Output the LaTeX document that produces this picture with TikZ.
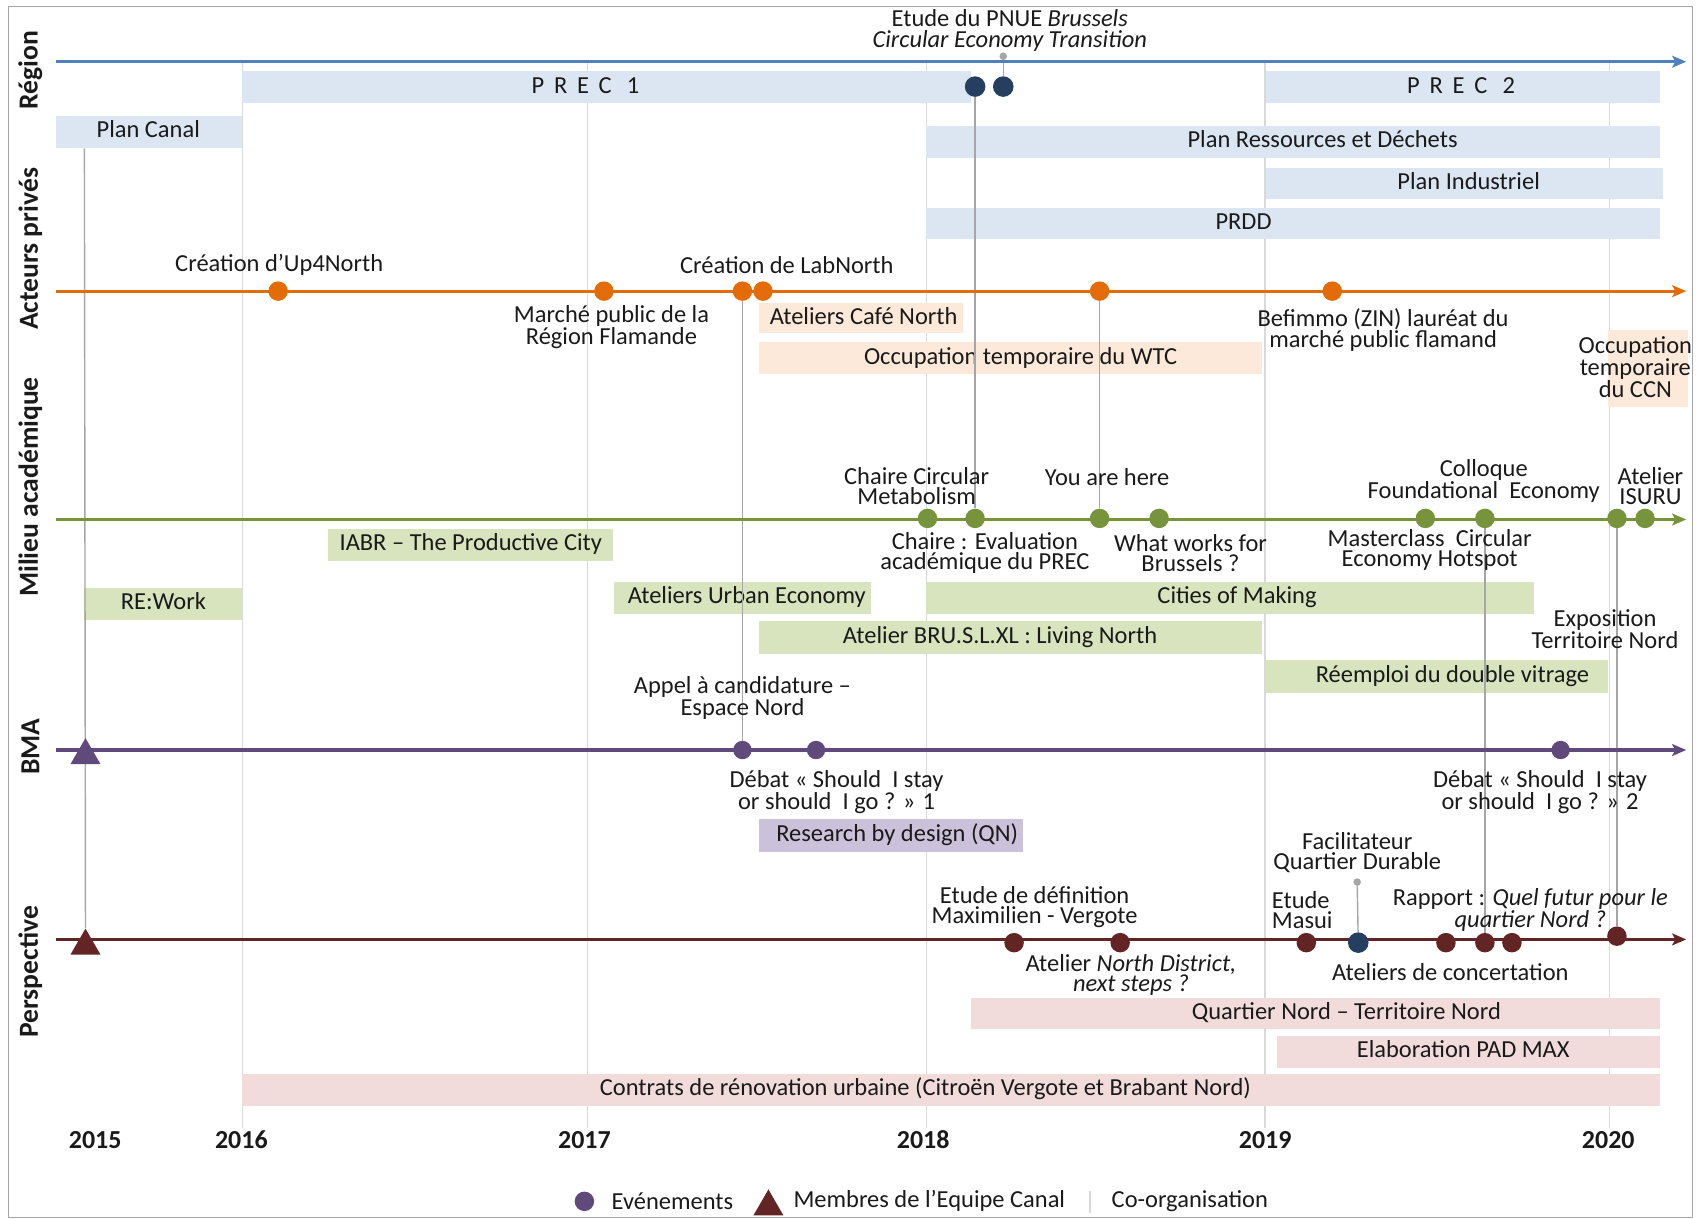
\documentclass[tikz,border=0pt]{standalone}
\usepackage{fontspec}
\setmainfont{Carlito}
\usetikzlibrary{arrows.meta,shapes.geometric}
\definecolor{cblue}{HTML}{4F81BD}
\definecolor{corange}{HTML}{E36C09}
\definecolor{cgreen}{HTML}{77933C}
\definecolor{cpurple}{HTML}{604A7B}
\definecolor{cred}{HTML}{632523}
\definecolor{cnavy}{HTML}{243F60}
\definecolor{bblue}{HTML}{DCE6F2}
\definecolor{borange}{HTML}{FDE9D9}
\definecolor{bgreen}{HTML}{D7E4BD}
\definecolor{bpurple}{HTML}{CCC1DA}
\definecolor{bpink}{HTML}{F2DCDB}
\definecolor{cgrid}{HTML}{D9D9D9}
\definecolor{cconn}{HTML}{A6A6A6}
\definecolor{ctext}{HTML}{1A1A1A}
\pgfdeclarelayer{bg}
\pgfdeclarelayer{mid}
\pgfsetlayers{bg,mid,main}
\newcommand\mkbar[8]{%
  \node[barbox, fill=#2, minimum width={(#5-#3)*1pt}, minimum height={(#6-#4)*1pt}] (#1) at (#3,#4) {};
  \node[bartext] (#1t) at (#7,{(#4+#6)/2}) {#8};}
\begin{document}
\begin{tikzpicture}[x=1pt,y=-1pt,
  lbl/.style={font=\fontsize{22.6}{19}\selectfont, align=center, inner sep=0pt, text=ctext},
  bartext/.style={lbl, text height=15pt, text depth=4pt},
  barbox/.style={anchor=north west, inner sep=0pt, draw=none, outer sep=0pt},
  dotn/.style={circle, inner sep=0pt, minimum size=18pt},
  smalldot/.style={circle, inner sep=0pt, minimum size=7pt, fill=cconn},
  tri/.style={regular polygon, regular polygon sides=3, inner sep=0pt, minimum size=32pt},
  axisline/.style={line width=3pt, -{Stealth[length=13pt,width=11pt,inset=3pt]}},
  conn/.style={draw=cconn, line width=1.3pt},
  gridline/.style={draw=cgrid, line width=1.3pt},
  lane/.style={font=\fontsize{25.5}{25.5}\selectfont\bfseries, rotate=90, inner sep=0pt, text=ctext},
  year/.style={font=\fontsize{24}{24}\selectfont\bfseries, inner sep=0pt, text=ctext}
]
\useasboundingbox (0,0) rectangle (1568,1126);
\draw[cconn, line width=1.3pt] (8,6) rectangle (1564,1125);

% lane labels
\node[lane] (lnR) at (28,65) {Région};
\node[lane] (lnA) at (28,230) {Acteurs privés};
\node[lane] (lnM) at (28,450) {Milieu académique};
\node[lane] (lnB) at (28,690) {BMA};
\node[lane] (lnP) at (28,898) {Perspective};

\begin{pgfonlayer}{bg}
% grid lines
\foreach \gx/\gn in {224/a,543/b,856/c,1169/d,1487/e}{
  \coordinate (gt\gn) at (\gx,58);
  \coordinate (gb\gn) at (\gx,1042);
  \draw[gridline] (gt\gn) -- (gb\gn);
}
% Region bars
\mkbar{prec1}{bblue}{224}{66}{897}{95}{541}{P\hspace{9pt}R\hspace{9pt}E\hspace{9pt}C\hspace{14pt}1}
\mkbar{prec2}{bblue}{1170}{66}{1534}{95}{1350}{P\hspace{9pt}R\hspace{9pt}E\hspace{9pt}C\hspace{14pt}2}
\mkbar{pcanal}{bblue}{52}{107}{224}{137}{137}{Plan Canal}
\mkbar{pres}{bblue}{856}{116}{1534}{146}{1222}{Plan Ressources et Déchets}
\mkbar{pind}{bblue}{1170}{155}{1537}{184}{1357}{Plan Industriel}
\mkbar{prdd}{bblue}{856}{192}{1534}{221}{1149}{PRDD}
% Acteurs privés bars
\mkbar{cafe}{borange}{701}{280}{890}{308}{798}{Ateliers Café North}
\mkbar{wtc}{borange}{701}{316}{1166}{346}{943}{Occupation temporaire du WTC}
\node[barbox, fill=borange, minimum width=74pt, minimum height=71pt] (ccn) at (1486,305) {};
\node[lbl, font=\fontsize{22.6}{17}\selectfont] (ccnt) at (1511,339) {Occupation\\temporaire\\du CCN};
% Milieu académique bars
\mkbar{iabr}{bgreen}{303}{489}{566}{518}{435}{IABR – The Productive City}
\mkbar{rework}{bgreen}{78}{543}{224}{573}{151}{RE:Work}
\mkbar{urban}{bgreen}{567}{538}{805}{567}{690}{Ateliers Urban Economy}
\mkbar{cities}{bgreen}{856}{538}{1417}{567}{1143}{Cities of Making}
\mkbar{bru}{bgreen}{701}{574}{1166}{604}{924}{Atelier BRU.S.L.XL : Living North}
\mkbar{reem}{bgreen}{1170}{610}{1486}{640}{1342}{Réemploi du double vitrage}
% BMA bar
\mkbar{rbd}{bpurple}{701}{757}{945}{787}{829}{Research by design (QN)}
% Perspective bars
\mkbar{qn}{bpink}{897}{922}{1534}{951}{1244}{Quartier Nord – Territoire Nord}
\mkbar{pad}{bpink}{1180}{957}{1534}{987}{1352}{Elaboration PAD MAX}
\mkbar{cru}{bpink}{224}{992}{1534}{1022}{855}{Contrats de rénovation urbaine (Citroën Vergote et Brabant Nord)}
\end{pgfonlayer}

% axis lines
\coordinate (aR0) at (52,57);  \coordinate (aR1) at (1558,57);
\coordinate (aA0) at (52,269); \coordinate (aA1) at (1558,269);
\coordinate (aM0) at (52,480); \coordinate (aM1) at (1558,480);
\coordinate (aB0) at (52,693); \coordinate (aB1) at (1558,693);
\coordinate (aP0) at (52,868); \coordinate (aP1) at (1558,868);
\draw[axisline, cblue] (aR0) -- (aR1);
\draw[axisline, corange] (aA0) -- (aA1);
\draw[axisline, cgreen] (aM0) -- (aM1);
\draw[axisline, cpurple] (aB0) -- (aB1);
\draw[axisline, cred] (aP0) -- (aP1);

% Region events
\node[dotn, fill=cnavy, minimum size=19pt] (rA) at (901,80) {};
\node[dotn, fill=cnavy, minimum size=19pt] (rB) at (927,80) {};
\node[smalldot] (rG) at (927,52) {};
\node[lbl] (rGt) at (933,28) {Etude du PNUE \textit{Brussels}\\\textit{Circular Economy Transition}};

% Acteurs privés events
\node[dotn, fill=corange] (o1) at (257,269) {};
\node[dotn, fill=corange] (o2) at (558,269) {};
\node[dotn, fill=corange] (o3) at (686,269) {};
\node[dotn, fill=corange] (o4) at (705,269) {};
\node[dotn, fill=corange] (o5) at (1016,269) {};
\node[dotn, fill=corange] (o6) at (1231,269) {};
\node[lbl] (o1t) at (258,245) {Création d’Up4North};
\node[lbl] (o2t) at (565,302) {Marché public de la\\Région Flamande};
\node[lbl] (o4t) at (727,245) {Création de LabNorth};
\node[lbl] (o6t) at (1278,305) {Befimmo (ZIN) lauréat du\\marché public flamand};

% Milieu académique events
\node[dotn, fill=cgreen] (g1) at (857,479) {};
\node[dotn, fill=cgreen] (g2) at (901,479) {};
\node[dotn, fill=cgreen] (g3) at (1016,479) {};
\node[dotn, fill=cgreen] (g4) at (1071,479) {};
\node[dotn, fill=cgreen] (g5) at (1317,479) {};
\node[dotn, fill=cgreen] (g6) at (1372,479) {};
\node[dotn, fill=cgreen] (g7) at (1494,479) {};
\node[dotn, fill=cgreen] (g8) at (1520,479) {};
\node[lbl] (g1t) at (847,449) {Chaire Circular\\Metabolism};
\node[lbl] (g2t) at (910,511) {Chaire : Evaluation\\académique du PREC};
\node[lbl] (g3t) at (1023,441) {You are here};
\node[lbl] (g4t) at (1100,511) {What works for\\Brussels ?};
\node[lbl] (g5t) at (1321,508) {Masterclass\ \ Circular\\Economy Hotspot};
\node[lbl] (g6t) at (1371,444) {Colloque\\Foundational\ \ Economy};
\node[lbl] (g8t) at (1525,449) {Atelier\\ISURU};
\node[lbl] (expo) at (1483,581) {Exposition\\Territoire Nord};

% BMA events
\node[tri, fill=cpurple] (tB) at (79,698) {};
\node[dotn, fill=cpurple, minimum size=17pt] (p1) at (686,693) {};
\node[dotn, fill=cpurple, minimum size=17pt] (p2) at (754,693) {};
\node[dotn, fill=cpurple, minimum size=17pt] (p3) at (1442,693) {};
\node[lbl] (p1t) at (686,645) {Appel à candidature –\\Espace Nord};
\node[lbl] (p2t) at (773,732) {Débat « Should\ \ I stay\\or should\ \ I go ? » 1};
\node[lbl] (p3t) at (1423,732) {Débat « Should\ \ I stay\\or should\ \ I go ? » 2};

% Perspective events
\node[tri, fill=cred] (tP) at (79,874) {};
\node[dotn, fill=cred] (d1) at (937,871) {};
\node[dotn, fill=cred] (d2) at (1035,871) {};
\node[dotn, fill=cred] (d3) at (1207,871) {};
\node[dotn, fill=cnavy, minimum size=19pt] (nF) at (1255,871) {};
\node[smalldot] (fG) at (1254,815) {};
\node[dotn, fill=cred] (d5) at (1336,871) {};
\node[dotn, fill=cred] (d6) at (1372,871) {};
\node[dotn, fill=cred] (d7) at (1397,871) {};
\node[dotn, fill=cred] (d8) at (1494,865) {};
\node[lbl] (d1t) at (956,838) {Etude de définition\\Maximilien - Vergote};
\node[lbl] (d2t) at (1045,901) {Atelier \textit{North District,}\\\textit{next steps ?}};
\node[lbl, align=left, anchor=west] (d3t) at (1175,841) {Etude\\Masui};
\node[lbl] (fGt) at (1254,788) {Facilitateur\\Quartier Durable};
\node[lbl] (d6t) at (1414,841) {Rapport : \textit{Quel futur pour le}\\\textit{quartier Nord ?}};
\node[lbl] (d5t) at (1340,898) {Ateliers de concertation};

% connectors
\coordinate (pc) at (78,137);
\begin{pgfonlayer}{mid}
\draw[conn] (pc) -- (tP);
\draw[conn] (rG) -- (rB);
\draw[conn] (rA) -- (g2);
\draw[conn] (o3) -- (p1);
\draw[conn] (o5) -- (g3);
\draw[conn] (g6) -- (d6);
\draw[conn] (g7) -- (d8);
\draw[conn] (fG) -- (nF);
\end{pgfonlayer}

% years
\node[year] (y15) at (88,1053) {2015};
\node[year] (y16) at (223,1053) {2016};
\node[year] (y17) at (540,1053) {2017};
\node[year] (y18) at (853,1053) {2018};
\node[year] (y19) at (1169,1053) {2019};
\node[year] (y20) at (1486,1053) {2020};

% legend
\node[dotn, fill=cpurple] (lgDot) at (540,1110) {};
\node[lbl, anchor=west] (lgEv) at (565,1110) {Evénements};
\node[tri, fill=cred] (lgTri) at (710,1115) {};
\node[lbl, anchor=west] (lgMe) at (733,1110) {Membres de l’Equipe Canal};
\coordinate (lgS0) at (1007,1100);
\coordinate (lgS1) at (1007,1121);
\draw[cgrid, line width=1.3pt] (lgS0) -- (lgS1);
\node[lbl, anchor=west] (lgCo) at (1027,1110) {Co-organisation};
\end{tikzpicture}
\end{document}
